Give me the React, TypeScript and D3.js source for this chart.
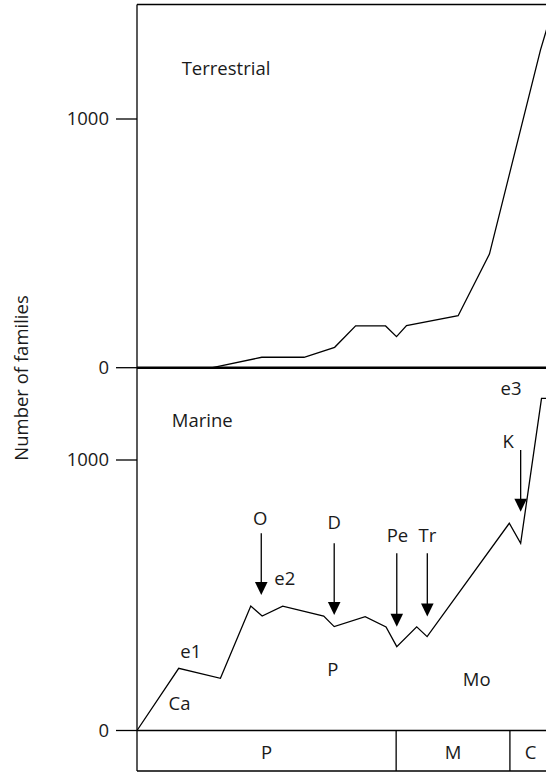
import React from "react";
import * as d3 from "d3";

// ---- data (ages in Ma, values = number of families) ----
const terrestrialAges = [655, 535.5, 457.6, 390.7, 342.3, 309.1, 261.7, 244.4, 228.6, 146.9, 97.4, 16.6, 7.9, 0];
const terrestrialFamilies = [0, 0, 42, 42, 82, 168, 168, 125, 169, 209, 457, 1278, 1352, 1419];

const marineAges = [655, 589, 523, 475, 457, 424.5, 359.6, 343, 294, 261, 244, 212.5, 196, 66, 48, 15, 0];
const marineFamilies = [0, 230, 193, 460, 423, 460, 423, 384, 421, 383, 310, 383, 347, 766, 692, 1228, 1228];

const yTicks = [0, 1000];
const yTickLabels = ["0", "1000"];

const eraNames = ["P", "M", "C"];
const eraBounds = [655, 245, 65, 0];

// mass extinction events
const eventNames = ["O", "D", "Pe", "Tr", "K"];
const eventAges = [458.4, 343, 244, 195.7, 48];
const eventArrowTop = [729, 692, 655, 655, 1037];
const eventArrowTip = [501, 427, 384, 421, 809];
const eventLabelAges = [460, 343, 243, 195.4, 67.6];
const eventLabelValues = [760, 745, 698, 698, 1044];

// other marine-panel annotations
const noteTexts = ["Marine", "e1", "e2", "e3", "Ca", "P", "Mo"];
const noteAges = [600, 586.5, 437.8, 79.7, 605, 345, 117.6];
const noteValues = [1123, 267, 538, 1240, 76, 201, 164.5];
const noteAnchors = ["start", "start", "start", "start", "start", "middle", "middle"];

const terrestrialTitle = "Terrestrial";
const terrestrialTitleAge = 584.3;
const terrestrialTitleValue = 1178;

const yAxisTitle = "Number of families";

export default function App() {
  const W = 546;
  const H = 773;
  const left = 137;
  const top = 4.5;
  const font = "'Open Sans', 'Noto Sans', sans-serif";
  const fs = 18.5;
  const textColor = "#1a1a1a";

  const x = d3.scaleLinear().domain([655, 0]).range([left, 551]);
  const yT = d3.scaleLinear().domain([0, 1000]).range([367.7, 119]);
  const yM = d3.scaleLinear().domain([0, 1000]).range([730.5, 460]);

  const barTop = yM(0);
  const barBottom = 771;

  const lineT = d3
    .line<number>()
    .x((_, i) => x(terrestrialAges[i]))
    .y((d) => yT(d));
  const lineM = d3
    .line<number>()
    .x((_, i) => x(marineAges[i]))
    .y((d) => yM(d));

  const headLen = 13;
  const headHalf = 6.3;

  return (
    <svg
      width={W}
      height={H}
      style={{ position: "absolute", left: 0, top: 0, background: "#fff" }}
      fontFamily={font}
    >
      {/* frame */}
      <line x1={left} x2={W + 10} y1={top} y2={top} stroke="#000" strokeWidth={1.3} />
      <line x1={left} x2={left} y1={top} y2={barBottom} stroke="#000" strokeWidth={1.3} />
      <line x1={left} x2={W + 10} y1={barBottom} y2={barBottom} stroke="#000" strokeWidth={1.3} />

      {/* series */}
      <path d={lineT(terrestrialFamilies) || ""} fill="none" stroke="#000" strokeWidth={1.3} />
      <path d={lineM(marineFamilies) || ""} fill="none" stroke="#000" strokeWidth={1.3} />

      {/* zero lines */}
      <line x1={left} x2={W + 10} y1={yT(0)} y2={yT(0)} stroke="#000" strokeWidth={2.6} />
      <line x1={left} x2={W + 10} y1={yM(0)} y2={yM(0)} stroke="#000" strokeWidth={1.5} />

      {/* y ticks: terrestrial */}
      {yTicks.map((t, i) => (
        <g key={"t" + i}>
          <line x1={116} x2={left} y1={yT(t)} y2={yT(t)} stroke="#000" strokeWidth={1.3} />
          <text x={109} y={yT(t)} dy="0.35em" textAnchor="end" fontSize={fs} fill={textColor}>
            {yTickLabels[i]}
          </text>
        </g>
      ))}
      {/* y ticks: marine */}
      {yTicks.map((t, i) => (
        <g key={"m" + i}>
          <line x1={116} x2={left} y1={yM(t)} y2={yM(t)} stroke="#000" strokeWidth={1.3} />
          <text x={109} y={yM(t)} dy="0.35em" textAnchor="end" fontSize={fs} fill={textColor}>
            {yTickLabels[i]}
          </text>
        </g>
      ))}

      {/* y axis title */}
      <text
        transform={`translate(28,378) rotate(-90)`}
        textAnchor="middle"
        fontSize={fs}
        fill={textColor}
      >
        {yAxisTitle}
      </text>

      {/* era bar */}
      {eraNames.map((name, i) => {
        const x0 = x(eraBounds[i]);
        const x1 = x(eraBounds[i + 1]);
        return (
          <g key={name}>
            {i > 0 && (
              <line x1={x0} x2={x0} y1={barTop} y2={barBottom} stroke="#000" strokeWidth={1.3} />
            )}
            <text
              x={(x0 + x1) / 2}
              y={759}
              textAnchor="middle"
              fontSize={fs}
              fill={textColor}
            >
              {name}
            </text>
          </g>
        );
      })}

      {/* terrestrial title */}
      <text
        x={x(terrestrialTitleAge)}
        y={yT(terrestrialTitleValue)}
        fontSize={fs}
        fill={textColor}
      >
        {terrestrialTitle}
      </text>

      {/* marine notes */}
      {noteTexts.map((t, i) => (
        <text
          key={"n" + i}
          x={x(noteAges[i])}
          y={yM(noteValues[i])}
          textAnchor={noteAnchors[i]}
          fontSize={fs}
          fill={textColor}
        >
          {t}
        </text>
      ))}

      {/* extinction arrows */}
      {eventNames.map((name, i) => {
        const ex = x(eventAges[i]);
        const y0 = yM(eventArrowTop[i]);
        const y1 = yM(eventArrowTip[i]);
        return (
          <g key={"e" + i}>
            <line x1={ex} x2={ex} y1={y0} y2={y1 - headLen + 1} stroke="#000" strokeWidth={1.3} />
            <path
              d={`M${ex - headHalf},${y1 - headLen} L${ex + headHalf},${y1 - headLen} L${ex},${y1} Z`}
              fill="#000"
            />
            <text
              x={x(eventLabelAges[i])}
              y={yM(eventLabelValues[i])}
              textAnchor="middle"
              fontSize={fs}
              fill={textColor}
            >
              {name}
            </text>
          </g>
        );
      })}
    </svg>
  );
}
